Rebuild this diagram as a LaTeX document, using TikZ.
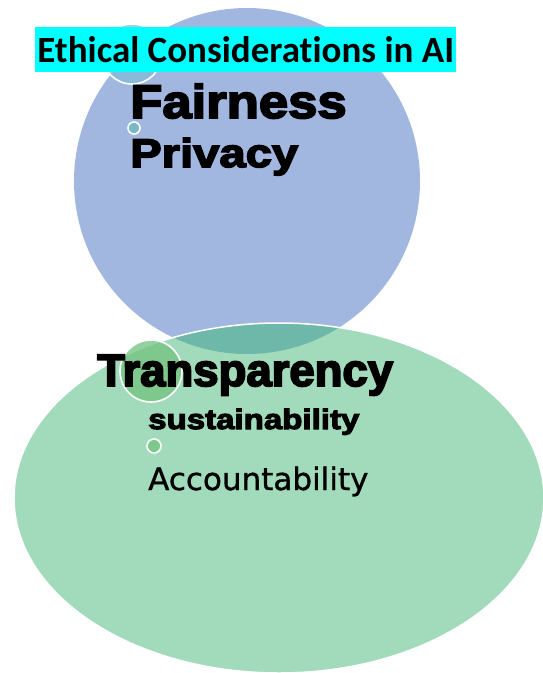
\documentclass[tikz,border=0pt]{standalone}
\usepackage{fontspec}
\setmainfont{Carlito}[Ligatures=NoCommon]
\newfontfamily\heavyfont[FakeBold=4]{Liberation Sans Bold}
\newfontfamily\plainfont[FakeBold=1]{DejaVu Sans}
\definecolor{blueset}{HTML}{A1B7E0}
\definecolor{greenset}{HTML}{A2DBBB}
\definecolor{overlapset}{HTML}{6DB8A8}
\definecolor{bluedot}{HTML}{7FBCD8}
\definecolor{tealdot}{HTML}{78B9C5}
\definecolor{greendot}{HTML}{72C27E}
\definecolor{titlebox}{HTML}{00FFFF}
\begin{document}
\begin{tikzpicture}[x=1pt,y=-1pt,
    dot/.style={draw=white,line width=1.6pt},
    bigword/.style={anchor=base west,inner sep=0pt},
    smallword/.style={anchor=base west,inner sep=0pt}]
\useasboundingbox (0,0) rectangle (543,673);

% \foreach \set in {blue,green}{
    \fill[blueset] (247,181) circle (173);
    \fill[greenset] (279,498) ellipse (265 and 175);
    \begin{scope}
    \clip (279,498) ellipse (265 and 175);
    \fill[overlapset] (247,181) circle (173);
    \end{scope}
    \draw[white,line width=1.5pt] (279,498) ellipse (265 and 175);
% }

    \draw[dot,fill=bluedot,fill opacity=.7] (132,54) circle (30);
    \draw[dot,fill=tealdot] (134,128) circle (6);
    \draw[dot,fill=greendot,fill opacity=.75] (151,371) circle (31);
    \draw[dot,fill=greendot,fill opacity=.75] (154,446) circle (7);

    \node[fill=titlebox,anchor=north west,minimum width=421pt,minimum height=45pt,
        inner sep=0pt,font=\bfseries\fontsize{37}{37}\selectfont] (title) at (35,27)
        {Ethical Considerations in AI};

    \node[bigword,font=\heavyfont\addfontfeatures{FakeStretch=1.12}\fontsize{47}{47}\selectfont]
        (fair) at (130,118) {Fairness};
    \node[bigword,font=\heavyfont\addfontfeatures{FakeStretch=1.18}\fontsize{40}{40}\selectfont]
        (priv) at (130,167) {Privacy};
    \node[bigword,font=\heavyfont\fontsize{45.5}{45.5}\selectfont]
        (trans) at (97,386) {Transparency};
    \node[smallword,font=\heavyfont\addfontfeatures{FakeStretch=1.18}\fontsize{28}{28}\selectfont]
        (sust) at (148,429) {sustainability};
    \node[smallword,font=\plainfont\fontsize{31}{31}\selectfont]
        (acc) at (148,490) {Accountability};
\end{tikzpicture}
\end{document}
